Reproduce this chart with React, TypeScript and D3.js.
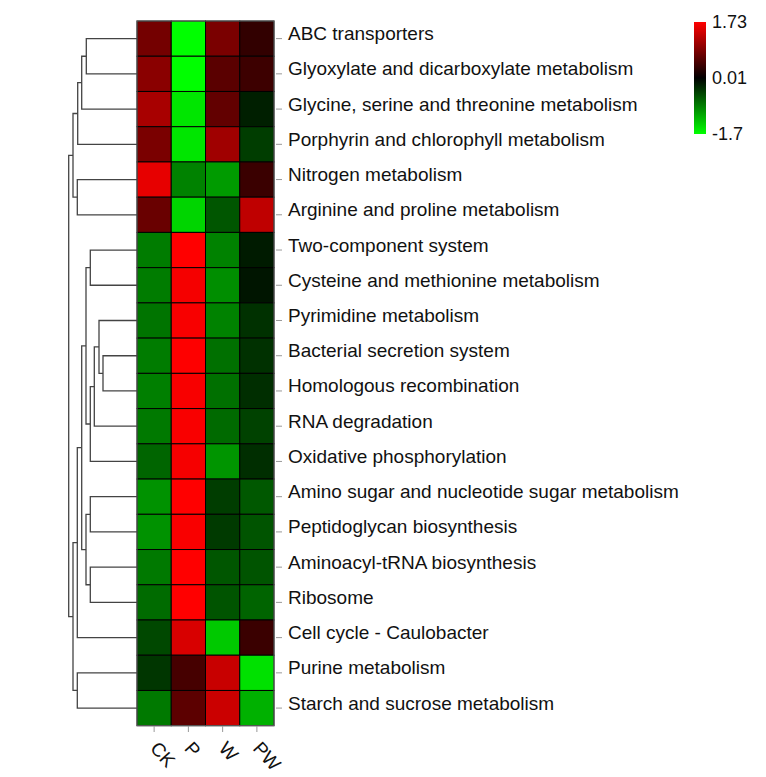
import * as d3 from 'd3';

const pathways = [
  'ABC transporters',
  'Glyoxylate and dicarboxylate metabolism',
  'Glycine, serine and threonine metabolism',
  'Porphyrin and chlorophyll metabolism',
  'Nitrogen metabolism',
  'Arginine and proline metabolism',
  'Two-component system',
  'Cysteine and methionine metabolism',
  'Pyrimidine metabolism',
  'Bacterial secretion system',
  'Homologous recombination',
  'RNA degradation',
  'Oxidative phosphorylation',
  'Amino sugar and nucleotide sugar metabolism',
  'Peptidoglycan biosynthesis',
  'Aminoacyl-tRNA biosynthesis',
  'Ribosome',
  'Cell cycle - Caulobacter',
  'Purine metabolism',
  'Starch and sucrose metabolism',
];

const samples = ['CK', 'P', 'W', 'PW'];

// z-scores per sample, same order as pathways
const CK = [0.79, 0.94, 1.14, 0.83, 1.57, 0.72, -0.82, -0.82, -0.77, -0.82, -0.84, -0.8, -0.67, -0.97, -0.97, -0.8, -0.71, -0.47, -0.35, -0.8];
const P = [-1.7, -1.7, -1.53, -1.53, -0.86, -1.42, 1.73, 1.66, 1.68, 1.72, 1.68, 1.69, 1.67, 1.73, 1.69, 1.73, 1.73, 1.47, 0.48, 0.63];
const W = [0.83, 0.62, 0.67, 1.09, -1.03, -0.57, -0.86, -0.94, -0.86, -0.74, -0.74, -0.7, -0.99, -0.4, -0.38, -0.57, -0.55, -1.34, 1.36, 1.38];
const PW = [0.35, 0.42, -0.2, -0.4, 0.4, 1.3, -0.17, -0.13, -0.32, -0.32, -0.3, -0.43, -0.3, -0.58, -0.55, -0.55, -0.66, 0.4, -1.5, -1.18];
const seriesBySample = [CK, P, W, PW];

// row clustering, hclust style: negative = leaf (1-based), positive = earlier merge
const merges: [number, number][] = [
  [-1, -2], [1, -3], [2, -4], [-5, -6], [3, 4],
  [-10, -11], [-9, 6], [7, -12], [8, -13], [-7, -8],
  [10, 9], [-14, -15], [-16, -17], [12, 13], [11, 14],
  [15, -18], [-19, -20], [16, 17], [5, 18],
];
const mergeHeights = [5.07, 5.53, 5.93, 5.97, 6.4, 3.4, 3.8, 4.27, 4.67, 4.67, 5.1, 4.67, 4.67, 5.1, 5.53, 5.97, 5.97, 6.4, 6.83];

const legendTicks = [1.73, 0.01, -1.7];

const font = "'Liberation Sans', Arial, sans-serif";

export default function App() {
  const width = 766;
  const height = 777;

  const x = d3.scaleBand<string>().domain(samples).range([137, 274]);
  const y = d3.scaleBand<string>().domain(pathways).range([21, 725.7]);
  const color = d3
    .scaleLinear<string>()
    .domain([-1.7, 0.01, 1.73])
    .range(['#00ff00', '#000000', '#ff0000'])
    .clamp(true);
  const hx = d3.scaleLinear().domain([0, d3.max(mergeHeights) as number]).range([137, 68.7]);
  const legendY = d3.scaleLinear().domain([-1.7, 1.73]).range([134, 22]);

  // dendrogram segments
  const nodeY: number[] = [];
  const nodeH: number[] = [];
  const segs: string[] = [];
  const pos = (id: number) => {
    if (id < 0) {
      const name = pathways[-id - 1];
      return { yy: (y(name) as number) + y.bandwidth() / 2, hh: 0 };
    }
    return { yy: nodeY[id - 1], hh: nodeH[id - 1] };
  };
  merges.forEach(([a, b], i) => {
    const pa = pos(a);
    const pb = pos(b);
    const h = mergeHeights[i];
    nodeY.push((pa.yy + pb.yy) / 2);
    nodeH.push(h);
    segs.push(
      `M${hx(pa.hh)},${pa.yy}H${hx(h)}V${pb.yy}H${hx(pb.hh)}`
    );
  });

  const gradStops = d3.range(0, 11).map((i) => {
    const v = -1.7 + (i / 10) * 3.43;
    return { offset: `${i * 10}%`, c: color(v) };
  });

  return (
    <svg
      width={width}
      height={height}
      style={{ position: 'absolute', left: 0, top: 0, background: '#fff' }}
      fontFamily={font}
    >
      <defs>
        <linearGradient id="legendGrad" x1="0" y1="1" x2="0" y2="0">
          {gradStops.map((s) => (
            <stop key={s.offset} offset={s.offset} stopColor={s.c} />
          ))}
        </linearGradient>
      </defs>

      {/* dendrogram */}
      <g fill="none" stroke="#444" strokeWidth={1.3}>
        {segs.map((d, i) => (
          <path key={i} d={d} />
        ))}
        <path
          d={`M${hx(mergeHeights[18])},${nodeY[18]}H${hx(mergeHeights[18]) - 0.1}`}
        />
      </g>

      {/* heatmap cells */}
      <g stroke="#000" strokeWidth={1}>
        {pathways.map((p, r) =>
          samples.map((s, c) => (
            <rect
              key={p + s}
              x={x(s)}
              y={y(p)}
              width={x.bandwidth()}
              height={y.bandwidth()}
              fill={color(seriesBySample[c][r])}
            />
          ))
        )}
      </g>
      <rect x={137} y={21} width={137} height={704.7} fill="none" stroke="#666" strokeWidth={1} />

      {/* row labels */}
      <g>
        {pathways.map((p) => {
          const cy = (y(p) as number) + y.bandwidth() / 2;
          return (
            <g key={p}>
              <line x1={276} x2={282} y1={cy} y2={cy} stroke="#999" strokeWidth={1} />
              <text x={288} y={cy + 1.5} fontSize={19} fill="#111">
                {p}
              </text>
            </g>
          );
        })}
      </g>

      {/* column labels */}
      <g>
        {samples.map((s) => {
          const cx = (x(s) as number) + x.bandwidth() / 2;
          return (
            <g key={s}>
              <line x1={cx} x2={cx} y1={726} y2={732} stroke="#999" strokeWidth={1} />
              <text
                transform={`translate(${cx - 5},${749}) rotate(48)`}
                fontSize={19}
                fill="#111"
              >
                {s}
              </text>
            </g>
          );
        })}
      </g>

      {/* colour key */}
      <rect x={694} y={22} width={12} height={112} fill="url(#legendGrad)" />
      {legendTicks.map((t) => (
        <text
          key={t}
          x={712}
          y={legendY(t)}
          dy="0.35em"
          fontSize={18}
          fill="#111"
        >
          {t}
        </text>
      ))}
    </svg>
  );
}
